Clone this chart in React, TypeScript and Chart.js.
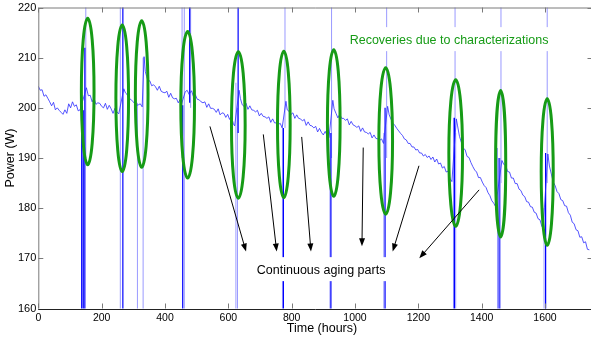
import { useEffect, useRef } from "react";
import { Chart, registerables } from "chart.js";
Chart.register(...registerables);

// ---- axis ticks ----
const xTickValues = [0, 200, 400, 600, 800, 1000, 1200, 1400, 1600];
const yTickValues = [160, 170, 180, 190, 200, 210, 220];

// ---- power trace, segment by segment between characterizations: [time (h), power (W)] ----
const segA: [number, number][] = [[0,204.3],[6,203.5],[12,203.6],[18,202.3],[24,202.6],[30,201.9],[36,201.2],[42,200.4],[48,201.1],[54,199.6],[60,200.0],[66,199.5],[72,199.1],[78,198.7],[84,199.6],[90,198.9],[96,200.8],[102,200.0],[108,201.2],[114,200.3],[120,200.6],[126,199.4],[132,199.6]];
const segB: [number, number][] = [[152,204.0],[158,202.4],[164,202.5],[170,201.2],[176,201.9],[182,200.7],[188,201.0],[194,200.9],[200,200.3],[206,200.0],[212,200.9],[218,199.7],[224,200.5],[230,199.8],[236,198.9],[242,199.9],[248,199.2],[254,198.8]];
const segC: [number, number][] = [[270,203.8],[275,203.0],[280,202.7],[286,201.8],[292,201.7],[298,201.3],[304,200.9],[310,200.5],[316,200.6],[322,200.8],[328,200.2]];
const segD: [number, number][] = [[334,210.2],[338,207.2],[342,206.3],[347,205.3],[352,205.4],[358,204.4],[364,204.6],[370,204.2],[376,203.5],[382,204.3],[388,203.3],[394,203.1],[400,203.0],[406,203.3],[412,202.1],[418,202.9],[424,202.0],[430,201.8],[436,201.9],[442,201.0],[448,201.7],[452,200.7]];
const segE: [number, number][] = [[464,203.2],[470,203.5],[476,202.7],[484,203.4],[490,202.2],[496,202.6],[502,201.7],[508,201.6],[514,201.2],[520,201.0],[526,201.2],[532,200.1],[538,200.8],[544,199.9],[550,199.9],[556,199.7],[562,199.1],[568,199.8],[574,198.6],[580,199.0],[586,198.9],[592,198.1],[598,198.7],[604,197.7],[610,198.3],[616,196.8],[620,196.4]];
const segF: [number, number][] = [[634,203.5],[638,201.9],[644,200.6],[650,200.3],[656,200.9],[662,199.7],[668,200.4],[674,199.6],[680,199.5],[686,199.2],[692,199.5],[698,198.4],[704,198.9],[710,198.3],[716,198.2],[722,197.9],[728,198.2],[734,197.1],[740,197.8],[746,197.0],[752,197.0],[758,196.7],[764,196.9],[770,196.0]];
const segG: [number, number][] = [[782,201.3],[786,199.6],[792,199.3],[798,198.7],[804,199.0],[810,197.9],[816,198.6],[822,197.9],[828,197.8],[834,197.4],[840,197.7],[846,196.5],[852,197.2],[858,196.5],[864,196.4],[870,196.0],[876,196.3],[882,195.2],[888,195.9],[894,195.1],[900,194.6],[906,195.3],[912,194.5],[918,194.1]];
const segH: [number, number][] = [[930,201.5],[934,199.8],[940,198.9],[946,198.0],[952,198.7],[958,197.9],[964,197.9],[970,197.5],[976,197.8],[982,196.6],[988,197.3],[994,196.6],[1000,196.4],[1006,196.1],[1012,196.4],[1018,195.3],[1024,196.0],[1030,195.2],[1036,195.1],[1042,194.8],[1048,195.1],[1054,194.0],[1060,194.6],[1066,193.9],[1072,193.8],[1078,193.5],[1084,193.8],[1090,192.9]];
const segI: [number, number][] = [[1103,200.3],[1108,198.6],[1114,197.7],[1120,196.9],[1126,196.5],[1132,195.9],[1138,195.4],[1144,194.9],[1150,194.5],[1156,193.8],[1162,193.6],[1168,192.9],[1174,192.9],[1180,192.2],[1186,192.2],[1192,191.6],[1198,191.7],[1204,191.0],[1210,191.0],[1216,190.4],[1222,190.7],[1228,190.1],[1234,190.4],[1240,189.7],[1246,190.2],[1252,189.2],[1258,189.8],[1264,188.8],[1270,189.0],[1276,188.0],[1282,188.3],[1288,187.2],[1294,187.4],[1300,185.9],[1306,185.3]];
const segJ: [number, number][] = [[1320,197.8],[1324,196.4],[1330,194.3],[1336,193.1],[1342,192.0],[1348,191.6],[1354,190.3],[1360,190.1],[1366,189.1],[1372,188.3],[1378,187.6],[1384,187.2],[1390,186.1],[1396,186.1],[1402,185.2],[1408,184.5],[1414,184.1],[1420,183.1],[1426,182.5],[1432,181.5],[1438,181.0],[1444,180.3]];
const segK: [number, number][] = [[1464,189.5],[1470,188.7],[1476,188.5],[1482,187.3],[1488,187.2],[1494,186.0],[1500,186.0],[1506,184.9],[1512,184.9],[1518,183.8],[1524,183.5],[1530,182.6],[1536,182.3],[1542,181.3],[1548,181.2],[1554,180.3],[1560,180.2],[1566,179.2],[1572,179.0],[1578,177.9],[1584,177.7],[1590,176.4],[1594,176.0]];
const segL: [number, number][] = [[1609,190.8],[1614,188.4],[1620,186.8],[1626,185.2],[1632,184.5],[1638,183.3],[1644,182.9],[1650,181.7],[1656,181.5],[1662,180.5],[1668,180.4],[1674,179.1],[1680,178.6],[1686,177.2],[1692,176.9],[1698,175.7],[1704,175.5],[1710,174.2],[1716,174.3],[1722,173.1],[1728,173.3],[1734,171.8],[1740,171.7]];

// ---- characterization excursions: [time (h), low W, high W] ----
const darkSpikes: [number, number, number][] = [[137,150,200],[142,150,199.5],[147,150,212],[267,150,230],[456,150,200.5],[478,201,230],[631,195,230],[774,150,196],[924,150,195],[1095,150,200],[1314,150,198],[1455,150,190],[1602,150,191]];
const lightSpikes: [number, number, number][] = [[150,190,230],[259,150,230],[313,150,201],[331,150,210],[454,190,230],[461,150,230],[481,200,230],[624,150,205],[629,150,200],[771,150,196],[779,196,230],[921,150,195],[926,190,230],[1091,150,195],[1100,190,230],[1311,150,198],[1316,190,230],[1318,150,195],[1450,150,192],[1459,150,190],[1461,185,230],[1597,150,180],[1607,185,230]];

// ---- annotations ----
// recovery ellipses: [centre time, centre W, half-width h, half-height W]
const recoveryEllipses: [number, number, number, number][] = [[156,203.25,20,14.6],[265,201.9,20,14.6],[326.5,202.75,20,14.6],[471.6,200.6,21.6,14.6],[631.6,196.6,21.6,14.6],[775.3,196.7,20,14.6],[933,196.97,20,14.6],[1097,193.4,21.6,14.6],[1318,191,21.6,14.6],[1460,188.85,16,14.6],[1607,187.2,19,14.6]];
// arrows: [tail time, tail W, head time, head W]
const agingArrows: [number, number, number, number][] = [[542,196.3,656,171.35],[710.5,194.7,752.8,171.35],[831.7,194.2,861,171.35],[1026,192.08,1022,172.4],[1202,188.45,1119,171.35],[1392,183.65,1203,170.0]];
const recoveryLabel = { text: "Recoveries due to characterizations", x: 1297, y: 212.7 };
const agingLabel = { text: "Continuous aging parts", x: 893, y: 166.85 };

const GREEN = "#169b16";
const FONT = "'Liberation Sans', Arial, sans-serif";

function spikePoints(list: [number, number, number][]) {
  const out: { x: number; y: number | null }[] = [];
  for (const [t, lo, hi] of list) {
    out.push({ x: t, y: lo }, { x: t, y: hi }, { x: t, y: null });
  }
  return out;
}

const annotPlugin = {
  id: "annot",
  afterDatasetsDraw(chart: any) {
    const { ctx, scales, chartArea } = chart;
    const x = scales.x, y = scales.y;
    ctx.save();

    // text labels with white background
    ctx.font = `12.5px ${FONT}`;
    ctx.textAlign = "center";
    ctx.textBaseline = "alphabetic";
    const drawLabel = (lab: { text: string; x: number; y: number }, color: string) => {
      const cx = x.getPixelForValue(lab.x);
      const by = y.getPixelForValue(lab.y);
      const w = ctx.measureText(lab.text).width;
      ctx.fillStyle = "#fff";
      ctx.fillRect(cx - w / 2 - 6, by - 17, w + 12, 24);
      ctx.fillStyle = color;
      ctx.fillText(lab.text, cx, by);
    };
    drawLabel(recoveryLabel, GREEN);
    drawLabel(agingLabel, "#000");

    // ellipses
    ctx.strokeStyle = GREEN;
    ctx.lineWidth = 3;
    for (const [cx, cy, hw, hh] of recoveryEllipses) {
      const px = x.getPixelForValue(cx);
      const py = y.getPixelForValue(cy);
      const rx = Math.abs(x.getPixelForValue(cx + hw) - px);
      const ry = Math.abs(y.getPixelForValue(cy + hh) - py);
      ctx.beginPath();
      ctx.ellipse(px, py, rx, ry, 0, 0, Math.PI * 2);
      ctx.stroke();
    }

    // arrows
    ctx.strokeStyle = "#000";
    ctx.fillStyle = "#000";
    ctx.lineWidth = 1;
    for (const [t1, v1, t2, v2] of agingArrows) {
      const x1 = x.getPixelForValue(t1), y1 = y.getPixelForValue(v1);
      const x2 = x.getPixelForValue(t2), y2 = y.getPixelForValue(v2);
      const a = Math.atan2(y2 - y1, x2 - x1);
      const L = 8, W = 3;
      ctx.beginPath();
      ctx.moveTo(x1, y1);
      ctx.lineTo(x2 - Math.cos(a) * 4, y2 - Math.sin(a) * 4);
      ctx.stroke();
      ctx.beginPath();
      ctx.moveTo(x2, y2);
      ctx.lineTo(x2 - L * Math.cos(a) + W * Math.sin(a), y2 - L * Math.sin(a) - W * Math.cos(a));
      ctx.lineTo(x2 - L * Math.cos(a) - W * Math.sin(a), y2 - L * Math.sin(a) + W * Math.cos(a));
      ctx.closePath();
      ctx.fill();
    }

    // axes box + inward ticks
    const { left, right, top, bottom } = chartArea;
    ctx.lineWidth = 1;
    ctx.strokeStyle = "#7a7a7a";
    ctx.beginPath();
    ctx.moveTo(left + 0.5, bottom);
    ctx.lineTo(left + 0.5, top + 0.5);
    ctx.lineTo(right, top + 0.5);
    ctx.lineTo(right - 0.5, bottom);
    ctx.stroke();
    for (const v of yTickValues) {
      const py = Math.round(y.getPixelForValue(v)) + 0.5;
      ctx.beginPath();
      ctx.moveTo(left, py); ctx.lineTo(left + 5, py);
      ctx.moveTo(right, py); ctx.lineTo(right - 5, py);
      ctx.stroke();
    }
    for (const v of xTickValues) {
      const px = Math.round(x.getPixelForValue(v)) + 0.5;
      ctx.beginPath();
      ctx.moveTo(px, bottom); ctx.lineTo(px, bottom - 5);
      ctx.moveTo(px, top); ctx.lineTo(px, top + 5);
      ctx.stroke();
    }
    ctx.strokeStyle = "#222";
    ctx.beginPath();
    ctx.moveTo(left, Math.round(bottom) + 0.5);
    ctx.lineTo(right, Math.round(bottom) + 0.5);
    ctx.stroke();

    // axis titles
    ctx.fillStyle = "#000";
    ctx.font = `12.5px ${FONT}`;
    ctx.textAlign = "center";
    ctx.textBaseline = "middle";
    ctx.fillText("Time (hours)", 322, 329);
    ctx.translate(10.5, (top + bottom) / 2);
    ctx.rotate(-Math.PI / 2);
    ctx.fillText("Power (W)", 0, 0);
    ctx.restore();
  },
};

export default function App() {
  const ref = useRef<HTMLCanvasElement | null>(null);
  useEffect(() => {
    if (!ref.current) return;
    const main = [segA, segB, segC, segD, segE, segF, segG, segH, segI, segJ, segK, segL]
      .flat()
      .map(([t, v]) => ({ x: t, y: v }));
    const chart = new Chart(ref.current, {
      type: "line",
      data: {
        datasets: [
          { data: main as any, borderColor: "#2a2aff", borderWidth: 0.8, pointRadius: 0, tension: 0 },
          { data: spikePoints(darkSpikes) as any, borderColor: "#0000ff", borderWidth: 1.2, pointRadius: 0, spanGaps: false },
          { data: spikePoints(lightSpikes) as any, borderColor: "#9a9aff", borderWidth: 1, pointRadius: 0, spanGaps: false },
        ],
      },
      options: {
        animation: false,
        responsive: false,
        devicePixelRatio: 1,
        layout: { padding: { top: 5.7, right: 1.5, left: 0, bottom: 0 } },
        plugins: { legend: { display: false }, tooltip: { enabled: false } },
        elements: { point: { radius: 0 } },
        scales: {
          x: {
            type: "linear",
            min: 0,
            max: 1750,
            afterBuildTicks: (s: any) => { s.ticks = xTickValues.map((v) => ({ value: v })); },
            afterFit: (s: any) => { s.height = 34.5; },
            grid: { display: false, drawTicks: false },
            border: { display: false },
            ticks: {
              padding: 4,
              font: { family: FONT, size: 10.5, lineHeight: 1 },
              color: "#000",
              maxRotation: 0,
              autoSkip: false,
              callback: (v: any) => String(v),
            },
          },
          y: {
            type: "linear",
            min: 160,
            max: 220,
            afterBuildTicks: (s: any) => { s.ticks = yTickValues.map((v) => ({ value: v })); },
            afterFit: (s: any) => { s.width = 38.3; },
            grid: { display: false, drawTicks: false },
            border: { display: false },
            ticks: {
              padding: 2,
              font: { family: FONT, size: 11, lineHeight: 1 },
              color: "#000",
              autoSkip: false,
              callback: (v: any) => String(v),
            },
          },
        },
      },
      plugins: [annotPlugin],
    });
    return () => chart.destroy();
  }, []);
  return (
    <div style={{ position: "fixed", left: 0, top: 0, width: 591, height: 343, overflow: "hidden", background: "#fff" }}>
      <canvas ref={ref} width={594} height={343} style={{ display: "block" }} />
    </div>
  );
}
